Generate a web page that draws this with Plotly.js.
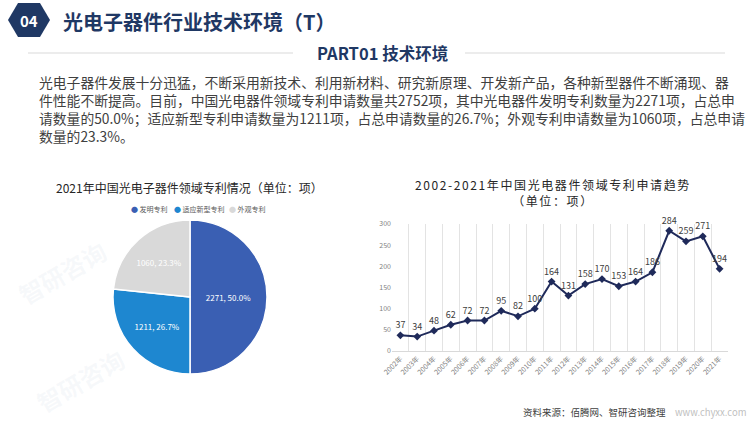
<!DOCTYPE html>
<html>
<head>
<meta charset="utf-8">
<script src="https://cdn.plot.ly/plotly-3.0.1.min.js"></script>
<style>
  html, body { margin: 0; padding: 0; background: #fff; }
  #myDiv { width: 750px; height: 422px; }
</style>
</head>
<body>
<div id="myDiv"></div>
<script>
// 饼图数据
const pieLabels = ['发明专利', '适应新型专利', '外观专利']
const pieValues = [2271, 1211, 1060]
const pieColors = ['#3a5fb3', '#1e87d0', '#d9d9d9']

// 折线图数据
const years  = ['2002年','2003年','2004年','2005年','2006年','2007年','2008年','2009年','2010年','2011年',
                '2012年','2013年','2014年','2015年','2016年','2017年','2018年','2019年','2020年','2021年']
const counts = [37, 34, 48, 62, 72, 72, 95, 82, 100, 164, 131, 158, 170, 153, 164, 186, 284, 259, 271, 194]

// 正文
const paraLines = [
	'光电子器件发展十分迅猛，不断采用新技术、利用新材料、研究新原理、开发新产品，各种新型器件不断涌现、器',
	'件性能不断提高。目前，中国光电器件领域专利申请数量共2752项，其中光电器件发明专利数量为2271项，占总申',
	'请数量的50.0%；适应新型专利申请数量为1211项，占总申请数量的26.7%；外观专利申请数量为1060项，占总申请',
	'数量的23.3%。'
]

// 像素 -> paper 坐标
const W = 750, H = 422
const px = x => x / W
const py = y => 1 - y / H

const FONT = '"Noto Sans CJK SC", "Noto Sans", sans-serif'
const NAVY = '#1f3864'

const pie = {
	type: 'pie',
	labels: pieLabels,
	values: pieValues,
	sort: false,
	direction: 'clockwise',
	rotation: 0,
	marker: {colors: pieColors, line: {color: '#ffffff', width: 1.5}},
	texttemplate: '%{value}, %{percent:.1%}',
	textposition: 'inside',
	insidetextorientation: 'horizontal',
	textfont: {color: '#ffffff', size: 8, family: FONT},
	domain: {x: [px(113), px(267)], y: [py(374), py(220)]},
	showlegend: false,
	hoverinfo: 'skip'
}

const trend = {
	type: 'scatter',
	mode: 'lines+markers+text',
	x: years,
	y: counts,
	text: counts.map(String),
	textposition: 'top center',
	textfont: {size: 9, color: '#404040', family: FONT},
	line: {color: '#1f2a5a', width: 2},
	marker: {symbol: 'diamond', size: 6, color: '#1f2a5a'},
	cliponaxis: false,
	showlegend: false,
	hoverinfo: 'skip'
}

// 注释
const annotations = []
const addText = (x, y, text, opt) => {
	annotations.push(Object.assign({
		xref: 'paper', yref: 'paper', x: px(x), y: py(y), text: text,
		showarrow: false, xanchor: 'left', yanchor: 'middle',
		font: {family: FONT, size: 12, color: '#262626'}
	}, opt || {}))
}

// 水印（放在最底层）
const wm = [[62, 272], [80, 380]]
wm.forEach(p => addText(p[0], p[1], '智研咨询', {
	xanchor: 'center', textangle: -30,
	font: {family: FONT, size: 24, color: 'rgba(190,200,220,0.12)', weight: 700}
}))

addText(29, 20, '04', {xanchor: 'center', font: {family: FONT, size: 15, color: '#ffffff', weight: 700}})
addText(61, 21, '光电子器件行业技术环境（T）', {font: {family: FONT, size: 20, color: NAVY, weight: 700}})
addText(382, 53, 'PART01 技术环境', {xanchor: 'center', font: {family: FONT, size: 16.5, color: NAVY, weight: 700}})

// 正文段落（一个文本块，行距由字号决定）
addText(37, 109, paraLines.join('<br>'), {align: 'left', font: {family: FONT, size: 13.8, color: '#404040'}})

addText(189, 188, '2021年中国光电子器件领域专利情况（单位：项）', {xanchor: 'center', font: {family: FONT, size: 12, color: '#262626'}})

// 饼图图例
const legendX = [129, 172, 227]
pieLabels.forEach((t, i) => addText(legendX[i], 209,
	'<span style="color:' + pieColors[i] + '">●</span> ' + t,
	{font: {family: FONT, size: 7, color: '#595959'}}))

addText(553, 192,
	'<span style="letter-spacing:1.6px">2002-2021年中国光电器件领域专利申请趋势</span><br>' +
	'<span style="letter-spacing:1.6px">（单位：项）</span>',
	{xanchor: 'center', align: 'center', font: {family: FONT, size: 12, color: '#262626'}})

addText(668, 412, '资料来源：佰腾网、智研咨询整理', {xanchor: 'right', font: {family: FONT, size: 9.5, color: '#404040'}})
addText(673, 412, 'www.chyxx.com', {font: {family: FONT, size: 9.5, color: '#bfbfbf'}})

const hex = 'M' + [[8,20],[18,3],[40,3],[50,20],[40,37],[18,37]].map(p => px(p[0]) + ',' + py(p[1])).join(' L') + ' Z'

const layout = {
	width: W,
	height: H,
	margin: {l: 0, r: 0, t: 0, b: 0},
	paper_bgcolor: '#ffffff',
	plot_bgcolor: 'rgba(0,0,0,0)',
	font: {family: FONT},
	showlegend: false,
	xaxis: {
		domain: [px(392), px(728)],
		type: 'category',
		range: [-0.5, 19.5],
		tickson: 'boundaries',
		showgrid: true,
		gridcolor: '#e3e3e3',
		gridwidth: 1,
		ticks: '',
		tickangle: -45,
		tickfont: {size: 7, color: '#7f7f7f', family: FONT},
		showline: true,
		linecolor: '#d9d9d9',
		zeroline: false,
		fixedrange: true
	},
	yaxis: {
		domain: [py(351), py(224)],
		range: [0, 300],
		dtick: 50,
		showgrid: false,
		zeroline: false,
		showline: false,
		ticks: '',
		tickfont: {size: 7, color: '#7f7f7f', family: FONT},
		fixedrange: true
	},
	shapes: [
		{type: 'path', xref: 'paper', yref: 'paper', path: hex, fillcolor: NAVY, line: {width: 0}},
		{type: 'line', xref: 'paper', yref: 'paper', x0: px(28), x1: px(293), y0: py(53), y1: py(53), line: {color: '#d9d9d9', width: 1}},
		{type: 'line', xref: 'paper', yref: 'paper', x0: px(465), x1: px(725), y0: py(53), y1: py(53), line: {color: '#d9d9d9', width: 1}}
	],
	annotations: annotations
}

const config = {displayModeBar: false, staticPlot: true}

Plotly.newPlot('myDiv', [pie, trend], layout, config)
</script>
</body>
</html>
